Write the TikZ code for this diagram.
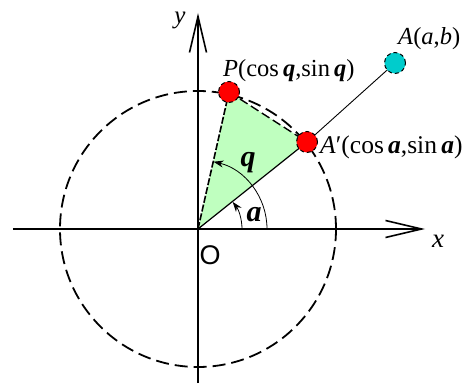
\documentclass[tikz,border=0pt]{standalone}
\usepackage{fontspec}
\setmainfont{Liberation Serif}
\newfontfamily\arialfam{Liberation Sans}
\usetikzlibrary{arrows.meta}
\newcommand\myq{\textbf{\textit{q}}}
\newcommand\mya{\textbf{\textit{a}}}
\tikzset{
  axisline/.style={line width=2pt,-{Straight Barb[length=36pt,width=17pt,line width=1.6pt]}},
  unitcirc/.style={line width=1.8pt,dash pattern=on 13pt off 6pt},
  tri/.style={fill={rgb,255:red,191;green,255;blue,191}},
  dotred/.style={circle,minimum size=21pt,inner sep=0pt,fill=red,draw=black,line width=1pt,dash pattern=on 4pt off 3pt},
  dotcyan/.style={circle,minimum size=21pt,inner sep=0pt,fill={rgb,255:red,0;green,204;blue,204},draw=black,line width=1pt,dash pattern=on 4pt off 3pt},
  anglearc/.style={line width=0.8pt,-{Stealth[length=10pt,width=7pt]}},
  lbl/.style={font=\fontsize{24.5}{26}\selectfont,inner sep=0pt},
}
\begin{document}
\begin{tikzpicture}[x=1pt,y=1pt]
\useasboundingbox (-198,-156) rectangle (275,229);
\coordinate (O) at (0,0);
\coordinate (P) at (31,137);
\coordinate (Ap) at (109,87);
\coordinate (A) at (197,166);
\coordinate (xl) at (-185,0);
\coordinate (xr) at (227,0);
\coordinate (yb) at (0,-154);
\coordinate (yt) at (0,216);
\coordinate (qs) at (69,0);
\coordinate (as) at (44,0);
% triangle
\fill[tri] (O) -- (P) -- (Ap) -- cycle;
% unit circle
\draw[unitcirc] (O) circle[radius=138];
% axes
\draw[axisline] (xl) -- (xr);
\draw[axisline] (yb) -- (yt);
% triangle edges
\draw[line width=1.6pt,dash pattern=on 7pt off 2pt] (O) -- (P);
\draw[line width=1.4pt,dash pattern=on 9pt off 4pt] (P) -- (Ap);
\draw[line width=1.2pt] (O) -- (Ap);
% line to A
\draw[line width=0.9pt] (Ap) -- (A);
% angle arcs
\draw[anglearc] (qs) arc[start angle=0,end angle=77,radius=69];
\draw[anglearc] (as) arc[start angle=0,end angle=38,radius=44];
% dots
\node[dotred] (Pd) at (P) {};
\node[dotred] (Apd) at (Ap) {};
\node[dotcyan] (Ad) at (A) {};
% labels
\node[lbl,font=\fontsize{25}{27}\selectfont] (ylab) at (-18,209) {\textit{y}};
\node[lbl,font=\fontsize{27}{29}\selectfont] (xlab) at (240,-12) {\textit{x}};
\node[lbl,font=\arialfam\fontsize{27}{29}\selectfont] (Olab) at (12,-26) {O};
\node[lbl,anchor=west] (Plab) at (25,158) {\textit{P}(cos\,\myq,sin\,\myq)};
\node[lbl,anchor=west] (Alab) at (200,190) {\textit{A}(\textit{a},\textit{b})};
\node[lbl,anchor=west,font=\fontsize{25.5}{27}\selectfont] (Aplab) at (122,82) {\textit{A}′(cos\,\mya,sin\,\mya)};
\node[lbl,font=\fontsize{30}{32}\selectfont] (qlab) at (50,66) {\myq};
\node[lbl,font=\fontsize{30}{32}\selectfont] (alab) at (56,14) {\mya};
\end{tikzpicture}
\end{document}
